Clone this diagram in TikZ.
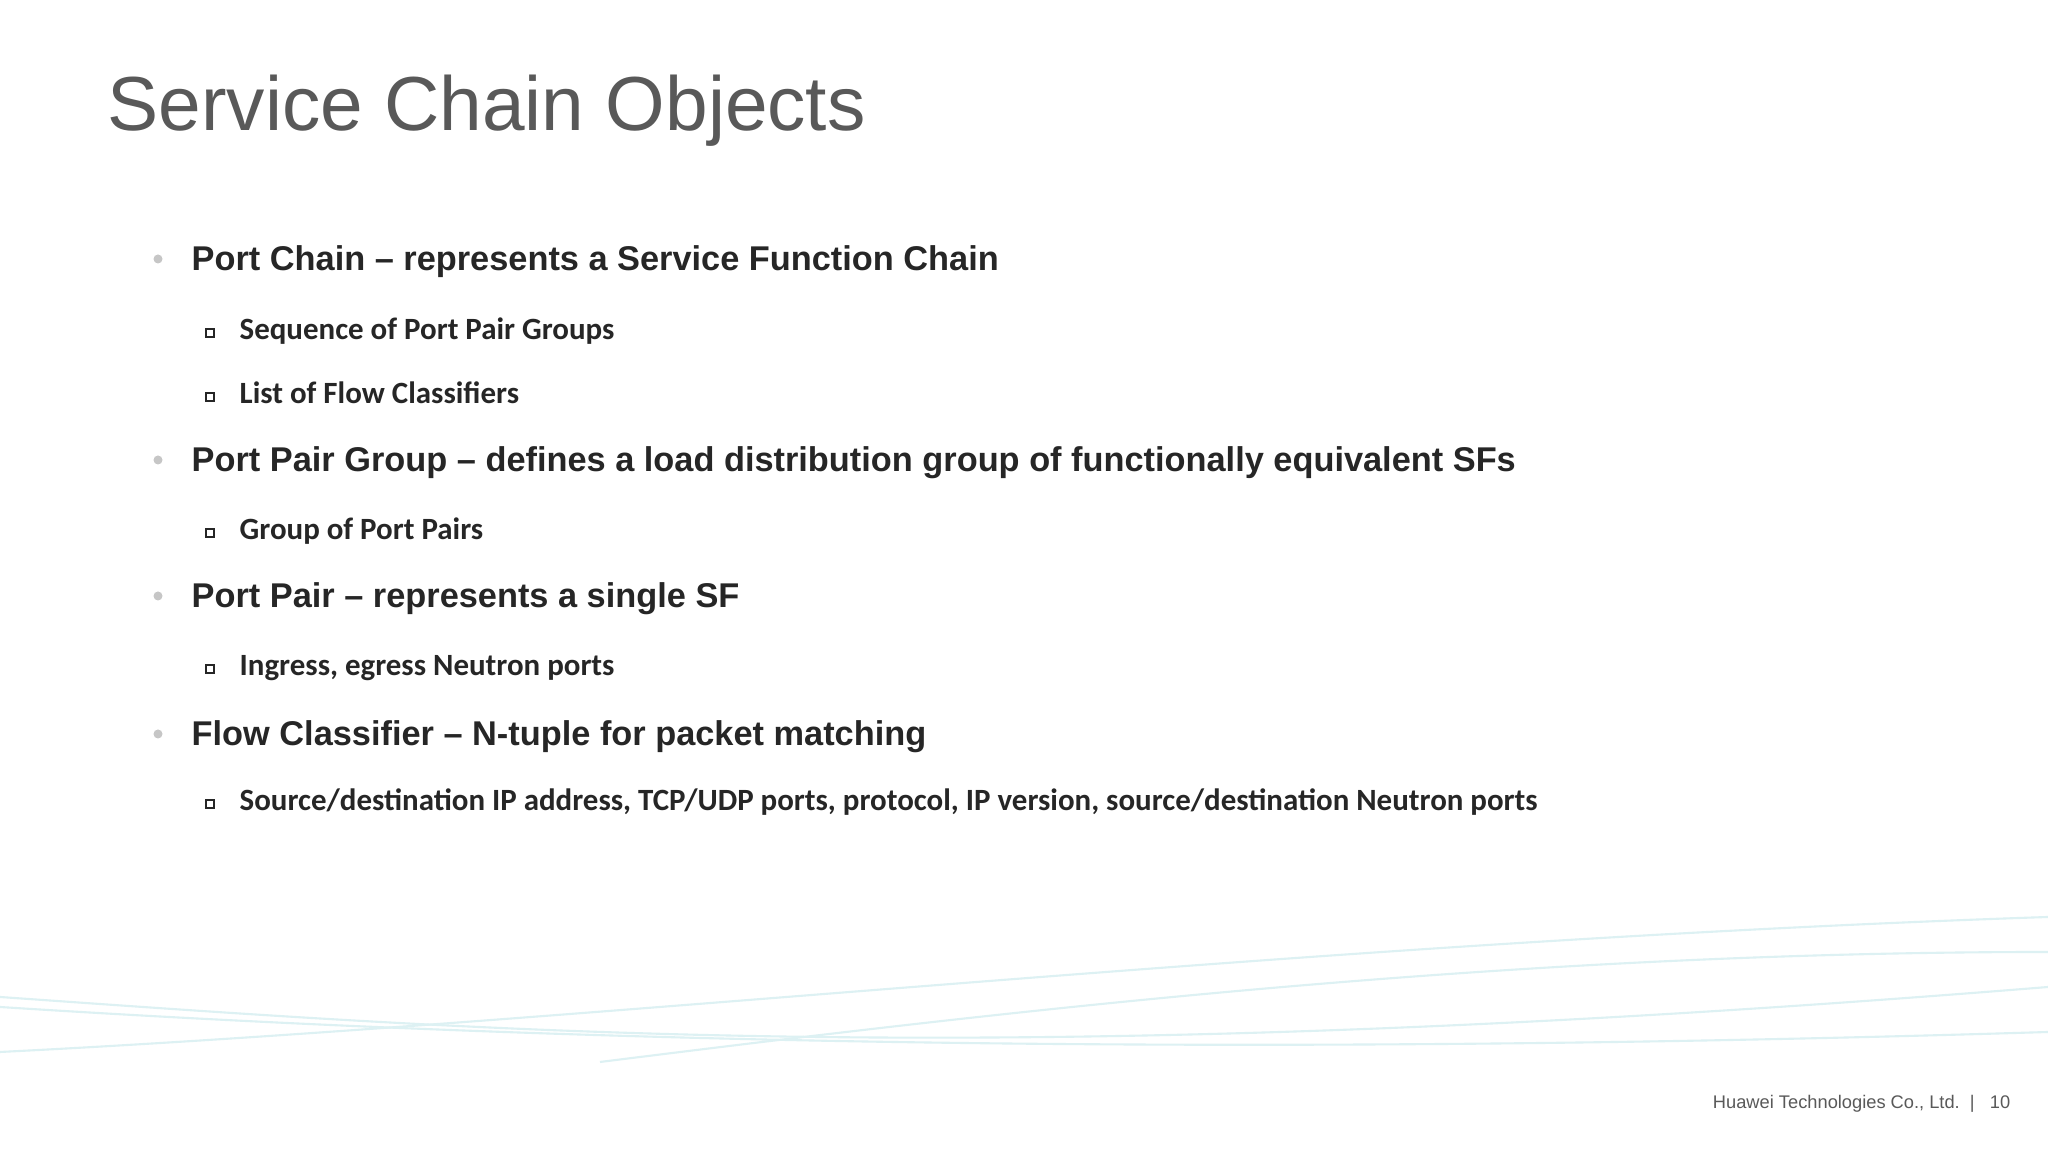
\documentclass[tikz,border=0pt]{standalone}
\usepackage{fontspec}
\setmainfont{Liberation Sans}
\newfontfamily\bodyfont{Carlito}
\definecolor{titlegray}{HTML}{595959}
\definecolor{textdark}{HTML}{262626}
\definecolor{wavecol}{HTML}{DDF1F3}
\tikzset{
 lone/.style={anchor=base west,inner sep=0,font=\fontsize{9.77}{11}\selectfont\bfseries,text=textdark},
 ltwo/.style={anchor=base west,inner sep=0,font=\bodyfont\fontsize{8.8}{10}\selectfont\bfseries,text=textdark},
 dotb/.style={fill=gray!45,draw=none,circle,inner sep=0,minimum size=0.09cm},
 sqb/.style={draw=textdark,line width=0.5pt,fill=white,inner sep=0,minimum size=0.08cm},
 wave/.style={draw=wavecol,line width=0.6pt}
}
\begin{document}
\begin{tikzpicture}
\useasboundingbox (0,0) rectangle (20.48,11.52);
\fill[white] (0,0) rectangle (20.48,11.52);
% waves
\draw[wave] (0,1.55) .. controls (5,1.2) and (10,0.8) .. (20.48,1.65);
\draw[wave] (0,1.0) .. controls (6,1.3) and (13,2.1) .. (20.48,2.35);
\draw[wave] (0,1.45) .. controls (7,1.0) and (14,1.0) .. (20.48,1.2);
\draw[wave] (6,0.9) .. controls (10,1.4) and (15,2.0) .. (20.48,2.0);
% title
\node[anchor=base west,inner sep=0,font=\fontsize{21.8}{26}\selectfont,text=titlegray] (title) at (1.07,10.21) {Service Chain Objects};
% bullets
\node[dotb] (b1) at (1.58,8.93) {};
\node[lone] (t1) at (1.91,8.81) {Port Chain – represents a Service Function Chain};
\node[sqb] (s1) at (2.10,8.19) {};
\node[ltwo] (u1) at (2.39,8.12) {Sequence of Port Pair Groups};
\node[sqb] (s2) at (2.10,7.55) {};
\node[ltwo] (u2) at (2.39,7.48) {List of Flow Classifiers};
\node[dotb] (b2) at (1.58,6.92) {};
\node[lone] (t2) at (1.91,6.80) {Port Pair Group – defines a load distribution group of functionally equivalent SFs};
\node[sqb] (s3) at (2.10,6.19) {};
\node[ltwo] (u3) at (2.39,6.12) {Group of Port Pairs};
\node[dotb] (b3) at (1.58,5.56) {};
\node[lone] (t3) at (1.91,5.44) {Port Pair – represents a single SF};
\node[sqb] (s4) at (2.10,4.83) {};
\node[ltwo] (u4) at (2.39,4.76) {Ingress, egress Neutron ports};
\node[dotb] (b4) at (1.58,4.18) {};
\node[lone] (t4) at (1.91,4.06) {Flow Classifier – N-tuple for packet matching};
\node[sqb] (s5) at (2.10,3.48) {};
\node[ltwo] (u5) at (2.39,3.41) {Source/destination IP address, TCP/UDP ports, protocol, IP version, source/destination Neutron ports};
% footer
\node[anchor=base east,inner sep=0,font=\fontsize{5.2}{6}\selectfont,text=titlegray] (foot) at (20.11,0.43) {Huawei Technologies Co., Ltd.\ \ |\ \ \ 10};
\end{tikzpicture}
\end{document}
